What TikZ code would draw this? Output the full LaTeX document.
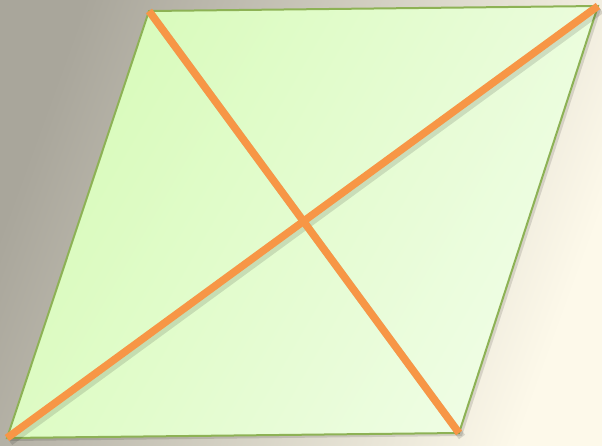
\documentclass[tikz,border=0pt]{standalone}
\usepackage{tikz}
\usetikzlibrary{calc}
\definecolor{bgdark}{HTML}{A9A69B}
\definecolor{bglight}{HTML}{FDF9EA}
\definecolor{fillleft}{HTML}{D8FBBA}
\definecolor{fillright}{HTML}{F0FDE6}
\definecolor{edgegreen}{HTML}{8DB255}
\definecolor{diagorange}{HTML}{F79646}

\begin{document}
\begin{tikzpicture}[x=1pt, y=-1pt, every node/.style={font=\small}]
  \tikzset{diag/.style={draw=diagorange, line width=7.5pt}}
  % background
  \shade[left color=bgdark, right color=bglight, shading angle=70] (0,0) rectangle (602,445);
  \useasboundingbox (0,0) rectangle (602,445);

  % corners of the rhombus
  \coordinate (tl) at (149,11);
  \coordinate (tr) at (598,6);
  \coordinate (br) at (459,433);
  \coordinate (bl) at (7,438);

  % faint shadow
  \fill[black, opacity=0.12] ($(tl)+(3,3)$) -- ($(tr)+(3,3)$) -- ($(br)+(3,3)$) -- ($(bl)+(3,3)$) -- cycle;
  \shade[left color=fillleft, right color=fillright, shading angle=60] (tl) -- (tr) -- (br) -- (bl) -- cycle;
  \draw[edgegreen, line width=2pt, line join=miter] (tl) -- (tr) -- (br) -- (bl) -- cycle;

  % diagonals
  \draw[black, opacity=0.12, line width=7.5pt] ($(tl)+(3,4)$) -- ($(br)+(3,4)$);
  \draw[black, opacity=0.12, line width=7.5pt] ($(bl)+(3,4)$) -- ($(tr)+(3,4)$);
  \draw[diag] (tl) -- (br);
  \draw[diag] (bl) -- (tr);
\end{tikzpicture}
\end{document}
